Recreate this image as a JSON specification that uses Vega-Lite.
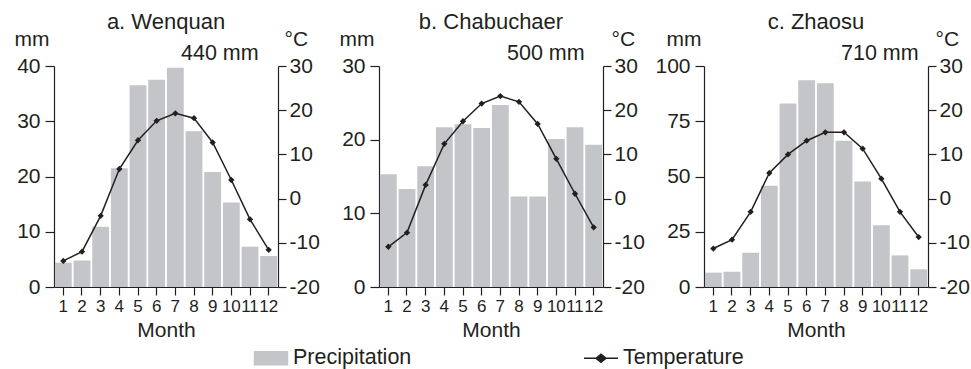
{
  "$schema": "https://vega.github.io/schema/vega-lite/v6.json",
  "background": "white",
  "padding": {"left": 14, "top": 11, "right": 3, "bottom": 2},
  "spacing": 101,
  "bounds": "flush",
  "config": {
    "font": "Liberation Sans",
    "view": {"stroke": null},
    "axis": {
      "grid": false,
      "labelFont": "Liberation Sans",
      "titleFont": "Liberation Sans",
      "labelFontSize": 21,
      "titleFontSize": 21,
      "titleFontWeight": "normal",
      "labelColor": "#231f20",
      "titleColor": "#231f20",
      "domainColor": "#231f20",
      "tickColor": "#231f20",
      "domainWidth": 1.2,
      "tickWidth": 1.2
    },
    "title": {"fontSize": 22, "fontWeight": "normal", "color": "#231f20", "font": "Liberation Sans"},
    "legend": {"symbolOpacity": 1}
  },
  "datasets": {
    "wenquan": [
      {"month": 1, "precip": 4.4, "temp": -14.1},
      {"month": 2, "precip": 4.8, "temp": -12.0},
      {"month": 3, "precip": 10.9, "temp": -3.9},
      {"month": 4, "precip": 21.5, "temp": 6.7},
      {"month": 5, "precip": 36.5, "temp": 13.2},
      {"month": 6, "precip": 37.5, "temp": 17.6},
      {"month": 7, "precip": 39.7, "temp": 19.3},
      {"month": 8, "precip": 28.2, "temp": 18.2},
      {"month": 9, "precip": 20.8, "temp": 12.7},
      {"month": 10, "precip": 15.3, "temp": 4.2},
      {"month": 11, "precip": 7.3, "temp": -4.7},
      {"month": 12, "precip": 5.6, "temp": -11.6}
    ],
    "chabuchaer": [
      {"month": 1, "precip": 15.3, "temp": -10.9},
      {"month": 2, "precip": 13.3, "temp": -7.7},
      {"month": 3, "precip": 16.4, "temp": 3.1},
      {"month": 4, "precip": 21.7, "temp": 12.4},
      {"month": 5, "precip": 22.1, "temp": 17.5},
      {"month": 6, "precip": 21.6, "temp": 21.5},
      {"month": 7, "precip": 24.7, "temp": 23.2},
      {"month": 8, "precip": 12.3, "temp": 21.9},
      {"month": 9, "precip": 12.3, "temp": 16.9},
      {"month": 10, "precip": 20.1, "temp": 9.0},
      {"month": 11, "precip": 21.7, "temp": 1.1},
      {"month": 12, "precip": 19.3, "temp": -6.5}
    ],
    "zhaosu": [
      {"month": 1, "precip": 6.5, "temp": -11.3},
      {"month": 2, "precip": 6.9, "temp": -9.3},
      {"month": 3, "precip": 15.5, "temp": -3.0},
      {"month": 4, "precip": 45.8, "temp": 5.8},
      {"month": 5, "precip": 83.0, "temp": 10.0},
      {"month": 6, "precip": 93.5, "temp": 13.1},
      {"month": 7, "precip": 92.2, "temp": 15.0},
      {"month": 8, "precip": 66.2, "temp": 15.0},
      {"month": 9, "precip": 47.7, "temp": 11.3},
      {"month": 10, "precip": 27.9, "temp": 4.5},
      {"month": 11, "precip": 14.3, "temp": -3.0},
      {"month": 12, "precip": 8.0, "temp": -8.7}
    ],
    "totals": [
      {"station": "wenquan", "label": "440 mm"},
      {"station": "chabuchaer", "label": "500 mm"},
      {"station": "zhaosu", "label": "710 mm"}
    ]
  },
  "hconcat": [
    {
      "data": {"name": "wenquan"},
      "width": 224,
      "height": 221,
      "title": {"text": "a. Wenquan", "dy": 10},
      "encoding": {
        "x": {
          "field": "month", "type": "ordinal",
          "scale": {"paddingInner": 0.1, "paddingOuter": 0.05},
          "axis": {"title": "Month", "labelAngle": 0, "labelOverlap": false, "labelFontSize": 17, "tickSize": 8, "labelPadding": 3, "titlePadding": 5}
        }
      },
      "layer": [
        {
          "layer": [
            {
              "mark": {"type": "bar"},
              "encoding": {
                "y": {"field": "precip", "type": "quantitative", "scale": {"domain": [0, 40]},
                  "axis": {"orient": "left", "values": [0, 10, 20, 30, 40], "title": "mm", "titleAngle": 0, "titleAlign": "left", "titleBaseline": "alphabetic", "titleX": -40, "titleY": -21, "tickSize": 9, "labelPadding": 5}},
                "color": {"datum": "Precipitation", "type": "nominal",
                  "scale": {"domain": ["Precipitation", "Temperature"], "range": ["#c4c5c9", "#231f20"]},
                  "legend": {
                    "title": null, "orient": "none", "legendX": 206, "legendY": 281,
                    "direction": "horizontal", "columns": 2, "columnPadding": 169,
                    "labelFontSize": 21.5, "labelColor": "#231f20", "labelFont": "Liberation Sans",
                    "symbolSize": 400, "labelOffset": 11,
                    "encode": {
                      "symbols": {
                        "update": {
                          "shape": {"signal": "datum.value === 'Temperature' ? 'M-1.7,0H1.7M-0.5,0L0,-0.4L0.5,0L0,0.4Z' : 'M-1.65,-0.65H1.65V0.65H-1.65Z'"},
                          "fill": {"signal": "datum.value === 'Temperature' ? '#231f20' : '#c4c5c9'"},
                          "stroke": {"signal": "datum.value === 'Temperature' ? '#231f20' : 'transparent'"},
                          "strokeWidth": {"value": 1.5},
                          "opacity": {"value": 1}
                        }
                      }
                    }
                  }
                }
              }
            },
            {
              "data": {"name": "totals"},
              "transform": [{"filter": "datum.station === 'wenquan'"}],
              "mark": {"type": "text", "align": "right", "baseline": "alphabetic", "dx": -10, "dy": -6, "fontSize": 21.5, "color": "#231f20"},
              "encoding": {"x": {"datum": 12, "type": "ordinal"}, "y": {"datum": 40, "type": "quantitative"}, "text": {"field": "label"}}
            }
          ]
        },
        {
          "mark": {"type": "line", "strokeWidth": 1.5, "point": {"shape": "diamond", "filled": true, "size": 40}},
          "encoding": {
            "y": {"field": "temp", "type": "quantitative", "scale": {"domain": [-20, 30]},
              "axis": {"orient": "right", "values": [-20, -10, 0, 10, 20, 30], "labelExpr": "'' + datum.value", "title": "°C", "titleAngle": 0, "titleAlign": "left", "titleBaseline": "alphabetic", "titleX": 6, "titleY": -21, "tickSize": 8, "labelPadding": 3}},
            "color": {"datum": "Temperature", "type": "nominal"}
          }
        }
      ],
      "resolve": {"scale": {"y": "independent"}}
    },
    {
      "data": {"name": "chabuchaer"},
      "width": 224,
      "height": 221,
      "title": {"text": "b. Chabuchaer", "dy": 10},
      "encoding": {
        "x": {
          "field": "month", "type": "ordinal",
          "scale": {"paddingInner": 0.1, "paddingOuter": 0.05},
          "axis": {"title": "Month", "labelAngle": 0, "labelOverlap": false, "labelFontSize": 17, "tickSize": 8, "labelPadding": 3, "titlePadding": 5}
        }
      },
      "layer": [
        {
          "layer": [
            {
              "mark": {"type": "bar"},
              "encoding": {
                "y": {"field": "precip", "type": "quantitative", "scale": {"domain": [0, 30]},
                  "axis": {"orient": "left", "values": [0, 10, 20, 30], "title": "mm", "titleAngle": 0, "titleAlign": "left", "titleBaseline": "alphabetic", "titleX": -40, "titleY": -21, "tickSize": 9, "labelPadding": 5}},
                "color": {"datum": "Precipitation", "type": "nominal"}
              }
            },
            {
              "data": {"name": "totals"},
              "transform": [{"filter": "datum.station === 'chabuchaer'"}],
              "mark": {"type": "text", "align": "right", "baseline": "alphabetic", "dx": -9, "dy": -6, "fontSize": 21.5, "color": "#231f20"},
              "encoding": {"x": {"datum": 12, "type": "ordinal"}, "y": {"datum": 30, "type": "quantitative"}, "text": {"field": "label"}}
            }
          ]
        },
        {
          "mark": {"type": "line", "strokeWidth": 1.5, "point": {"shape": "diamond", "filled": true, "size": 40}},
          "encoding": {
            "y": {"field": "temp", "type": "quantitative", "scale": {"domain": [-20, 30]},
              "axis": {"orient": "right", "values": [-20, -10, 0, 10, 20, 30], "labelExpr": "'' + datum.value", "title": "°C", "titleAngle": 0, "titleAlign": "left", "titleBaseline": "alphabetic", "titleX": 8, "titleY": -21, "tickSize": 8, "labelPadding": 3}},
            "color": {"datum": "Temperature", "type": "nominal"}
          }
        }
      ],
      "resolve": {"scale": {"y": "independent"}}
    },
    {
      "data": {"name": "zhaosu"},
      "width": 224,
      "height": 221,
      "title": {"text": "c. Zhaosu", "dy": 10},
      "encoding": {
        "x": {
          "field": "month", "type": "ordinal",
          "scale": {"paddingInner": 0.1, "paddingOuter": 0.05},
          "axis": {"title": "Month", "labelAngle": 0, "labelOverlap": false, "labelFontSize": 17, "tickSize": 8, "labelPadding": 3, "titlePadding": 5}
        }
      },
      "layer": [
        {
          "layer": [
            {
              "mark": {"type": "bar"},
              "encoding": {
                "y": {"field": "precip", "type": "quantitative", "scale": {"domain": [0, 100]},
                  "axis": {"orient": "left", "values": [0, 25, 50, 75, 100], "title": "mm", "titleAngle": 0, "titleAlign": "left", "titleBaseline": "alphabetic", "titleX": -38, "titleY": -21, "tickSize": 9, "labelPadding": 5}},
                "color": {"datum": "Precipitation", "type": "nominal"}
              }
            },
            {
              "data": {"name": "totals"},
              "transform": [{"filter": "datum.station === 'zhaosu'"}],
              "mark": {"type": "text", "align": "right", "baseline": "alphabetic", "dx": 0, "dy": -6, "fontSize": 21.5, "color": "#231f20"},
              "encoding": {"x": {"datum": 12, "type": "ordinal"}, "y": {"datum": 100, "type": "quantitative"}, "text": {"field": "label"}}
            }
          ]
        },
        {
          "mark": {"type": "line", "strokeWidth": 1.5, "point": {"shape": "diamond", "filled": true, "size": 40}},
          "encoding": {
            "y": {"field": "temp", "type": "quantitative", "scale": {"domain": [-20, 30]},
              "axis": {"orient": "right", "values": [-20, -10, 0, 10, 20, 30], "labelExpr": "'' + datum.value", "title": "°C", "titleAngle": 0, "titleAlign": "left", "titleBaseline": "alphabetic", "titleX": 7, "titleY": -21, "tickSize": 8, "labelPadding": 3}},
            "color": {"datum": "Temperature", "type": "nominal"}
          }
        }
      ],
      "resolve": {"scale": {"y": "independent"}}
    }
  ]
}
